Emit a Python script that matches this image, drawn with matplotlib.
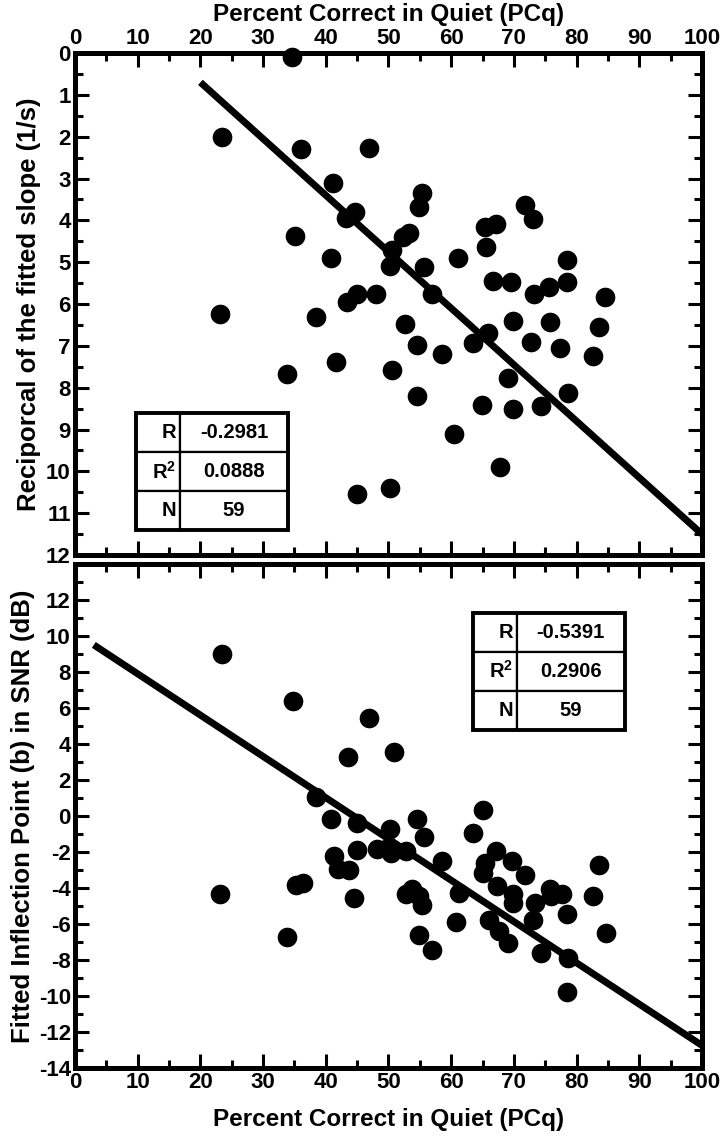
import numpy as np
import matplotlib.pyplot as plt
from matplotlib import font_manager as fm
from matplotlib.ticker import MultipleLocator
from matplotlib.patches import Rectangle

# pick the first family that really has a bold face installed
family = 'DejaVu Sans'
for cand in ['Liberation Sans', 'Arimo', 'Roboto', 'Open Sans', 'Lato', 'Inter', 'Noto Sans']:
    try:
        path = fm.findfont(fm.FontProperties(family=cand, weight='bold'), fallback_to_default=False)
    except Exception:
        continue
    if 'bold' in path.lower():
        family = cand
        break

plt.rcParams['font.family'] = [family, 'DejaVu Sans']
plt.rcParams['font.weight'] = 'bold'
plt.rcParams['axes.labelweight'] = 'bold'
plt.rcParams['axes.unicode_minus'] = False
plt.rcParams['mathtext.fontset'] = 'custom'
plt.rcParams['mathtext.bf'] = family + ':bold'
plt.rcParams['mathtext.rm'] = family + ':bold'

# ------------------------------
# Data
# ------------------------------
# top panel: reciprocal of fitted slope vs PCq
pcq_top = [34.6, 23.5, 36.0, 46.9, 41.2, 43.3, 44.6, 35.1, 40.9, 50.5,
           50.2, 55.3, 54.8, 53.2, 52.3, 55.6, 61.1, 65.4, 67.1, 65.5,
           71.8, 73.0, 78.4, 66.7, 69.6, 73.2, 75.6, 78.4, 84.5, 56.9,
           52.6, 54.5, 58.5, 63.4, 65.9, 69.9, 75.8, 72.7, 77.4, 83.5,
           82.6, 50.5, 69.1, 54.5, 64.9, 69.9, 74.3, 78.6, 60.5, 67.8,
           50.3, 23.1, 38.5, 43.4, 44.9, 48.0, 41.7, 33.8, 44.9]
slope_recip = [0.1, 2.0, 2.3, 2.27, 3.1, 3.95, 3.8, 4.38, 4.9, 4.7,
               5.1, 3.34, 3.68, 4.31, 4.4, 5.11, 4.91, 4.15, 4.09, 4.63,
               3.64, 3.97, 4.95, 5.45, 5.47, 5.75, 5.59, 5.47, 5.83, 5.77,
               6.47, 6.99, 7.2, 6.93, 6.69, 6.40, 6.43, 6.91, 7.05, 6.55,
               7.25, 7.58, 7.76, 8.2, 8.42, 8.5, 8.44, 8.13, 9.1, 9.9,
               10.4, 6.23, 6.32, 5.95, 5.75, 5.75, 7.38, 7.68, 10.53]

# bottom panel: fitted inflection point vs PCq
pcq_bot = [23.5, 34.7, 46.9, 43.5, 50.8, 38.5, 40.9, 44.9, 50.3, 54.5,
           55.6, 63.5, 65.1, 23.2, 33.8, 35.3, 36.4, 41.3, 41.9, 43.75,
           44.5, 45.0, 48.2, 50.0, 50.4, 52.8, 52.8, 53.7, 54.8, 55.3,
           54.9, 57.0, 58.6, 61.2, 60.7, 65.1, 65.4, 67.1, 67.3, 66.0,
           67.6, 69.1, 69.7, 71.7, 69.9, 69.9, 73.4, 73.0, 74.3, 75.9,
           75.7, 77.7, 78.5, 78.7, 78.5, 82.6, 83.5, 84.7]
inflection = [9.0, 6.4, 5.46, 3.3, 3.55, 1.05, -0.15, -0.4, -0.75, -0.15,
              -1.15, -0.95, 0.33, -4.33, -6.74, -3.84, -3.75, -2.22, -2.93, -3.02,
              -4.55, -1.91, -1.85, -1.76, -2.07, -1.94, -4.36, -4.08, -4.46, -4.96,
              -6.6, -7.47, -2.5, -4.27, -5.9, -3.15, -2.6, -1.94, -3.9, -5.76,
              -6.4, -7.06, -2.5, -3.3, -4.36, -4.83, -4.83, -5.76, -7.62, -4.46,
              -4.08, -4.36, -5.42, -7.9, -9.76, -4.46, -2.73, -6.5]

# regression line end points
fit_top_x = [20, 100]
fit_top_y = [0.7, 11.5]
fit_bot_x = [3, 100]
fit_bot_y = [9.5, -12.75]

# stats tables
stat_names = ['R', r'$\mathbf{R^2}$', 'N']
stats_top = ['-0.2981', '0.0888', '59']
stats_bot = ['-0.5391', '0.2906', '59']


def style_axes(ax, ymajor, yminor):
    ax.set_xlim(0, 100)
    ax.xaxis.set_major_locator(MultipleLocator(10))
    ax.xaxis.set_minor_locator(MultipleLocator(5))
    ax.yaxis.set_major_locator(MultipleLocator(ymajor))
    ax.yaxis.set_minor_locator(MultipleLocator(yminor))
    ax.tick_params(which='both', direction='in', top=True, bottom=True,
                   left=True, right=True, width=2.2, labelsize=16, pad=3)
    ax.tick_params(which='major', length=10)
    ax.tick_params(which='minor', length=6)
    for lab in ax.get_xticklabels() + ax.get_yticklabels():
        lab.set_fontweight('bold')
    for sp in ax.spines.values():
        sp.set_linewidth(3.6)


def stats_table(ax, values, bbox):
    x0, y0, w, h = bbox
    tab = ax.table(cellText=[[n, v] for n, v in zip(stat_names, values)],
                   colWidths=[0.29, 0.71], bbox=bbox, zorder=5)
    tab.auto_set_font_size(False)
    for (r, c), cell in tab.get_celld().items():
        cell.set_linewidth(1.6)
        cell.set_edgecolor('black')
        cell.set_facecolor('white')
        txt = cell.get_text()
        txt.set_fontsize(14.5)
        txt.set_fontweight('bold')
        if c == 0:
            cell._loc = 'right'
            cell.PAD = 0.08
            txt.set_horizontalalignment('right')
        else:
            cell._loc = 'center'
            txt.set_horizontalalignment('center')
    ax.add_patch(Rectangle((x0, y0), w, h, transform=ax.transAxes,
                           fill=False, lw=2.8, ec='black', zorder=6, clip_on=False))


fig = plt.figure(figsize=(7.24, 11.36), dpi=100)
ax1 = fig.add_axes([0.1036, 0.5114, 0.866, 0.4419])
ax2 = fig.add_axes([0.1036, 0.0599, 0.866, 0.4437])

# top panel
ax1.scatter(pcq_top, slope_recip, s=200, c='black', lw=0, zorder=3, clip_on=False)
ax1.plot(fit_top_x, fit_top_y, color='black', lw=5, solid_capstyle='butt', zorder=4)
ax1.set_ylim(12, 0)
ax1.xaxis.tick_top()
style_axes(ax1, 1, 0.5)
ax1.tick_params(which='both', bottom=True, labelbottom=False, labeltop=True)
ax1.xaxis.set_label_position('top')
ax1.set_xlabel('Percent Correct in Quiet (PCq)', fontsize=17.5, fontweight='bold', labelpad=5)
ax1.set_ylabel('Reciporcal of the fitted slope (1/s)', fontsize=18.5, fontweight='bold', labelpad=4)
stats_table(ax1, stats_top, [0.0968, 0.0498, 0.243, 0.233])

# bottom panel
ax2.scatter(pcq_bot, inflection, s=200, c='black', lw=0, zorder=3)
ax2.plot(fit_bot_x, fit_bot_y, color='black', lw=5, solid_capstyle='butt', zorder=4)
ax2.set_ylim(-14, 14)
style_axes(ax2, 2, 1)
ax2.set_yticks(np.arange(-14, 13, 2))
ax2.set_xlabel('Percent Correct in Quiet (PCq)', fontsize=17.5, fontweight='bold', labelpad=11)
ax2.set_ylabel('Fitted Inflection Point (b) in SNR (dB)', fontsize=18.5, fontweight='bold', labelpad=3)
stats_table(ax2, stats_bot, [0.634, 0.671, 0.243, 0.232])

fig.savefig('out.png', dpi=100)
